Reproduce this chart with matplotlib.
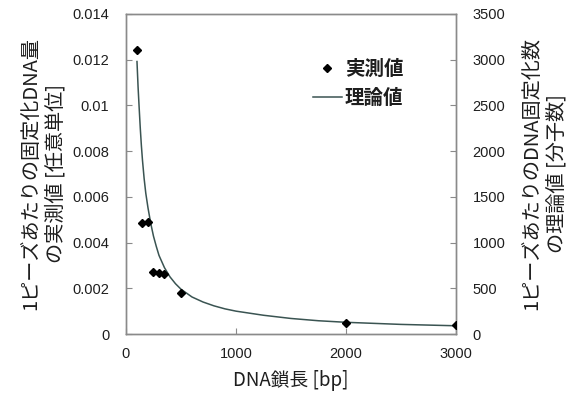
import matplotlib
matplotlib.use("Agg")
import matplotlib.pyplot as plt
from matplotlib.lines import Line2D

# measured amount of immobilised DNA per bead (arbitrary units)
dna_len_meas = [100, 150, 200, 250, 300, 350, 500, 2000, 3000]
amount_meas = [0.01242, 0.00487, 0.00491, 0.00273, 0.00266, 0.00263, 0.00178, 0.00047, 0.00039]

# theoretical number of molecules per bead
dna_len_theory = [100, 110, 120, 130, 140, 150, 165, 180, 200, 225, 250, 275, 300,
                  350, 400, 450, 500, 600, 700, 800, 900, 1000, 1250, 1500, 1750,
                  2000, 2500, 3000]
count_theory = [2980, 2700, 2470, 2250, 2060, 1900, 1700, 1540, 1380, 1210, 1070, 960, 860,
                725, 625, 550, 490, 405, 350, 308, 275, 250, 205, 170, 145,
                128, 105, 90]

left_ticks = [0, 0.002, 0.004, 0.006, 0.008, 0.01, 0.012, 0.014]
left_labels = ["0", "0.002", "0.004", "0.006", "0.008", "0.01", "0.012", "0.014"]
right_ticks = [0, 500, 1000, 1500, 2000, 2500, 3000, 3500]
x_ticks = [0, 1000, 2000, 3000]

jp = ["Noto Sans CJK JP", "DejaVu Sans"]
num_font = "Liberation Sans"
spine_col = "#8a8a8a"
text_col = "#1e1e1e"
curve_col = "#3a5452"

fig = plt.figure(figsize=(5.68, 4.03), dpi=100)
ax = fig.add_axes([0.2218, 0.1712, 0.5810, 0.7941])
ax2 = ax.twinx()

ax2.plot(dna_len_theory, count_theory, color=curve_col, lw=1.1, zorder=2)
ax.plot(dna_len_meas, amount_meas, "D", color="black", ms=4.5, zorder=3)

ax.set_xlim(0, 3000)
ax.set_ylim(0, 0.014)
ax2.set_ylim(0, 3500)
ax.set_zorder(ax2.get_zorder() + 1)
ax.patch.set_visible(False)

ax.set_xticks(x_ticks)
ax.set_xticklabels([str(v) for v in x_ticks], fontfamily=num_font, fontsize=10.5)
ax.set_yticks(left_ticks)
ax.set_yticklabels(left_labels, fontfamily=num_font, fontsize=10.5)
ax2.set_yticks(right_ticks)
ax2.set_yticklabels([str(v) for v in right_ticks], fontfamily=num_font, fontsize=10.5)

for a in (ax, ax2):
    for s in a.spines.values():
        s.set_color(spine_col)
        s.set_linewidth(1.0)
    a.tick_params(direction="in", length=4, color=spine_col, labelcolor=text_col)
ax.tick_params(axis="y", pad=12)
ax.tick_params(axis="x", pad=9)
ax2.tick_params(axis="y", pad=12)

ax.set_xlabel("DNA鎖長 [bp]", family=jp, fontsize=13.5, labelpad=7, color=text_col)
ax.set_ylabel("1ピーズあたりの固定化DNA量\nの実測値 [任意単位]", family=jp,
              fontsize=14.5, labelpad=4, color=text_col, linespacing=1.3)
ax2.set_ylabel("1ピーズあたりのDNA固定化数\nの理論値 [分子数]", family=jp,
               fontsize=14.5, labelpad=11, color=text_col, linespacing=1.3)

handles = [
    Line2D([], [], ls="none", marker="D", color="black", ms=4.5),
    Line2D([], [], color=curve_col, lw=1.1),
]
leg = ax.legend(handles, ["実測値", "理論値"], loc="upper left",
                bbox_to_anchor=(0.525, 0.9), frameon=False,
                prop={"family": jp, "size": 14, "weight": "bold"}, handlelength=1.5,
                handletextpad=0.15, labelspacing=0.5, borderpad=0.2)
for t in leg.get_texts():
    t.set_color(text_col)

fig.savefig("out.png", dpi=100)
